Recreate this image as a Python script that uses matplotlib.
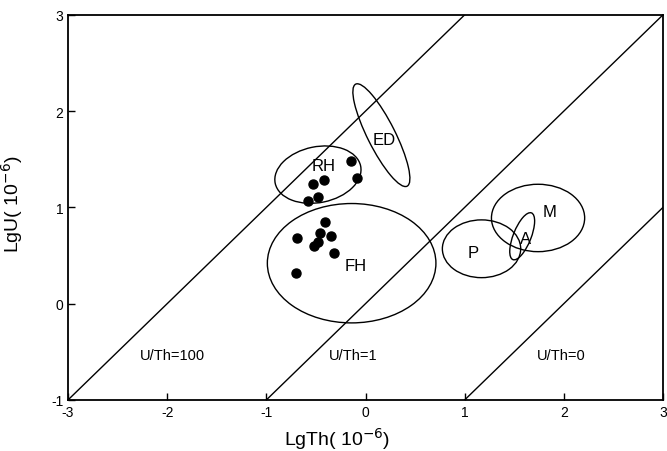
import matplotlib
matplotlib.use("Agg")
import matplotlib.pyplot as plt
from matplotlib.patches import Ellipse

plt.rcParams['font.family'] = ['Liberation Sans', 'DejaVu Sans']
plt.rcParams['axes.unicode_minus'] = False  # plain hyphen like the original

# sample points (LgTh, LgU)
rh_x = [-0.15, -0.09, -0.42, -0.53, -0.48, -0.58]
rh_y = [1.48, 1.30, 1.28, 1.24, 1.11, 1.07]
fh_x = [-0.41, -0.69, -0.46, -0.35, -0.48, -0.52, -0.32, -0.70]
fh_y = [0.85, 0.68, 0.73, 0.70, 0.64, 0.60, 0.53, 0.32]

# fields: name, centre x, centre y, width, height, angle, label x, label y
fields = ['RH', 'ED', 'FH', 'P', 'M', 'A']
field_cx = [-0.48, 0.16, -0.14, 1.17, 1.74, 1.58]
field_cy = [1.34, 1.75, 0.42, 0.57, 0.89, 0.70]
field_w = [0.88, 1.18, 1.70, 0.79, 0.94, 0.52]
field_h = [0.58, 0.28, 1.24, 0.60, 0.70, 0.18]
field_ang = [12, 116, 0, 0, 0, 69]
label_x = [-0.42, 0.19, -0.10, 1.09, 1.86, 1.61]
label_y = [1.44, 1.71, 0.40, 0.53, 0.96, 0.68]

# U/Th reference lines: LgU = LgTh + offset
ratio_names = ['U/Th=100', 'U/Th=1', 'U/Th=0']
ratio_offset = [2, 0, -2]
ratio_lx = [-1.95, -0.12, 1.97]
ratio_ly = [-0.53, -0.53, -0.53]

fig = plt.figure(figsize=(6.67, 4.52), dpi=100)
ax = fig.add_axes([0.102, 0.113, 0.892, 0.852])

for off in ratio_offset:
    xs = [-3, 3]
    ax.plot(xs, [x + off for x in xs], color='black', lw=1.0)

for name, lx, ly in zip(ratio_names, ratio_lx, ratio_ly):
    ax.text(lx, ly, name, ha='center', va='center', fontsize=10.5)

for i in range(len(fields)):
    e = Ellipse((field_cx[i], field_cy[i]), field_w[i], field_h[i],
                angle=field_ang[i], fill=False, ec='black', lw=1.0)
    ax.add_patch(e)
    ax.text(label_x[i], label_y[i], fields[i], ha='center', va='center', fontsize=12)

ax.plot(rh_x, rh_y, 'o', color='black', ms=6.5)
ax.plot(fh_x, fh_y, 'o', color='black', ms=6.5)

ax.set_xlim(-3, 3)
ax.set_ylim(-1, 3)
ax.set_xticks([-3, -2, -1, 0, 1, 2, 3])
ax.set_yticks([-1, 0, 1, 2, 3])
ax.tick_params(direction='in', length=5, width=1, labelsize=10, top=False, right=False)
for s in ax.spines.values():
    s.set_linewidth(1.3)

ax.set_xlabel('LgTh( 10$^{-6}$)', fontsize=14)
ax.set_ylabel('LgU( 10$^{-6}$)', fontsize=14)
ax.xaxis.set_label_coords(0.452, -0.065)
ax.yaxis.set_label_coords(-0.072, 0.51)

fig.savefig('out.png', dpi=100)
